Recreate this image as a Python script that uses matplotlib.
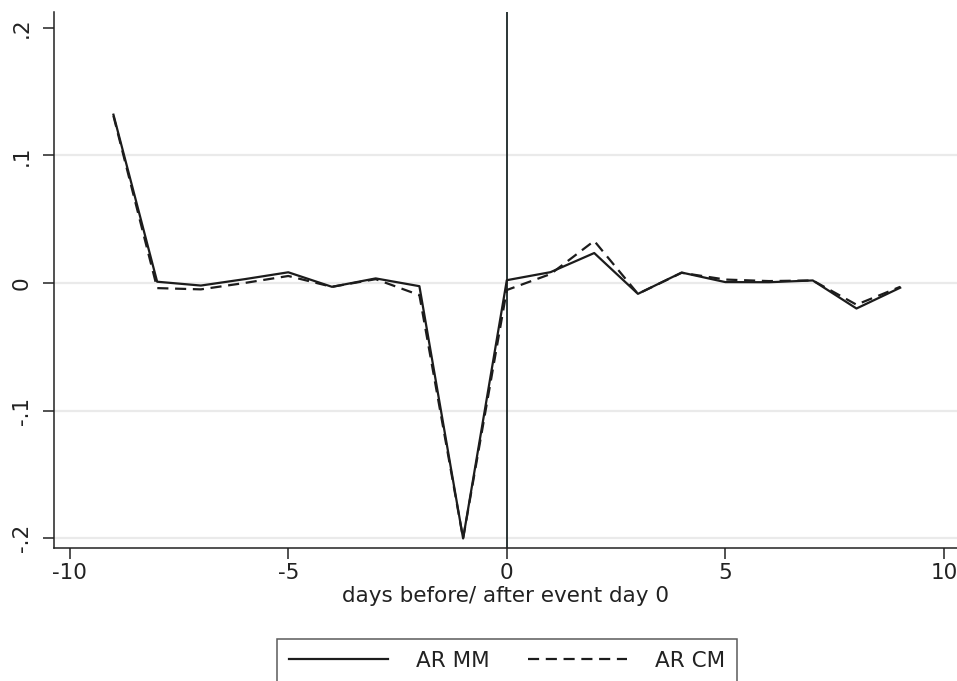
import matplotlib.pyplot as plt

# Event window and abnormal returns (market model vs. constant mean model)
days = [-9, -8, -7, -6, -5, -4, -3, -2, -1, 0, 1, 2, 3, 4, 5, 6, 7, 8, 9]
ar_mm = [0.132, 0.001, -0.002, 0.003, 0.0084, -0.003, 0.0036, -0.0025, -0.2003,
         0.0022, 0.0085, 0.0235, -0.0085, 0.0082, 0.0007, 0.0006, 0.002, -0.020, -0.0037]
ar_cm = [0.131, -0.004, -0.005, 0.0, 0.0055, -0.003, 0.003, -0.0095, -0.2003,
         -0.0055, 0.007, 0.033, -0.0085, 0.008, 0.0027, 0.0015, 0.002, -0.017, -0.003]

yticks = [-0.2, -0.1, 0, 0.1, 0.2]
ytick_labels = ['-.2', '-.1', '0', '.1', '.2']
xticks = [-10, -5, 0, 5, 10]

plt.rcParams['font.family'] = ['DejaVu Sans']
fs = 15.5

fig = plt.figure(figsize=(9.57, 6.81), dpi=100)
ax = fig.add_axes([54 / 957, 1 - 548 / 681, 1 - 54 / 957, (548 - 12) / 681])

line_col = '#1c1c1c'
for y in [-0.2, -0.1, 0, 0.1]:
    ax.axhline(y, color='#eaeaea', lw=1.6, zorder=0)
ax.axvline(0, color='#2b3535', lw=1.4, zorder=1)

ax.plot(days, ar_mm, color=line_col, lw=1.6, label='AR MM', zorder=3)
ax.plot(days, ar_cm, color=line_col, lw=1.6, ls=(0, (5, 3)), label='AR CM', zorder=2)

ax.set_xlim(-10.36, 10.3)
ax.set_ylim(-0.2078, 0.2125)
ax.set_xticks(xticks)
ax.set_xticklabels([str(x) for x in xticks])
ax.set_yticks(yticks)
ax.set_yticklabels(ytick_labels, rotation=90, va='center')
ax.tick_params(axis='both', direction='out', length=8, width=1.1, color='#222222',
               labelsize=fs, labelcolor='#222222')
ax.tick_params(axis='x', pad=3)
ax.tick_params(axis='y', pad=8)

for side in ['top', 'right']:
    ax.spines[side].set_visible(False)
for side in ['left', 'bottom']:
    ax.spines[side].set_color('#222222')
    ax.spines[side].set_linewidth(1.1)

ax.set_xlabel('days before/ after event day 0', fontsize=fs, color='#222222', labelpad=2)

leg = fig.legend(loc='upper center', bbox_to_anchor=(507 / 957, 1 - 628 / 681),
                 ncol=2, fontsize=fs, handlelength=4.6, columnspacing=1.8,
                 handletextpad=1.3, fancybox=False, edgecolor='#333333',
                 borderpad=0.55, labelcolor='#222222')
leg.get_frame().set_linewidth(1.1)

fig.savefig('out.png', dpi=100, facecolor='white')
